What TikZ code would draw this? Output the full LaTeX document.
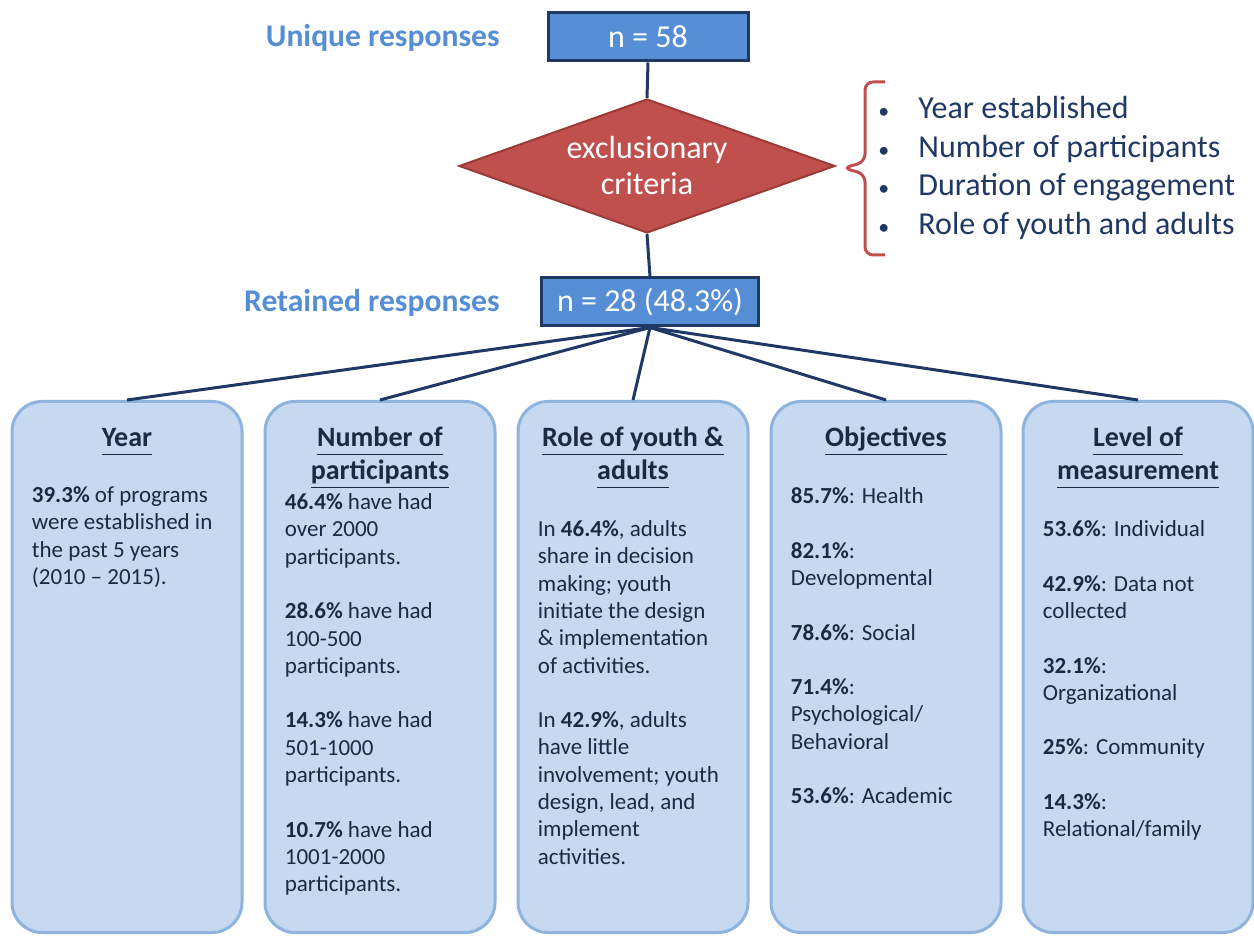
\documentclass[tikz,border=0pt]{standalone}
\usepackage{fontspec}
\setmainfont{Carlito}
\usetikzlibrary{shapes.geometric}

\definecolor{countfill}{HTML}{558ED5}
\definecolor{navyline}{HTML}{1F3864}
\definecolor{critred}{HTML}{C0504D}
\definecolor{critedge}{HTML}{9C3A37}
\definecolor{boxfill}{HTML}{C6D9F1}
\definecolor{boxedge}{HTML}{8EB3DE}
\definecolor{listtext}{HTML}{203864}
\definecolor{bodytext}{HTML}{1C2A3F}

\newcommand{\titleul}[1]{\underline{#1\vphantom{gp}}}
\newcommand{\paragap}{\\[13.65pt]}

\tikzset{
  countbox/.style={rectangle, draw=navyline, line width=1.5pt, fill=countfill, text=white,
    font=\fontsize{16}{19}\selectfont, minimum width=100pt, minimum height=24pt, inner sep=0pt},
  sidelabel/.style={anchor=east, inner sep=0pt, text=countfill, font=\fontsize{15.8}{19}\selectfont\bfseries},
  criteria/.style={diamond, draw=critedge, line width=1pt, fill=critred, text=white, align=center,
    font=\fontsize{16}{18}\selectfont, aspect=2.8, inner sep=0pt, minimum width=188pt, minimum height=67pt},
  catbox/.style={rectangle, rounded corners=15pt, draw=boxedge, line width=1.5pt, fill=boxfill,
    minimum width=115pt, minimum height=265.5pt},
  cattitle/.style={anchor=north, align=center, inner sep=0pt, text=bodytext,
    font=\fontsize{14}{16.5}\selectfont\bfseries},
  catbody/.style={anchor=north west, align=left, inner sep=0pt, text=bodytext,
    font=\fontsize{11.5}{13.65}\selectfont},
  link/.style={draw=navyline, line width=1.5pt}
}

\begin{document}
\begin{tikzpicture}[x=0.5pt, y=-0.5pt]
  \useasboundingbox (0,0) rectangle (1254,940);

  % Counts and criteria
  \node[countbox] (n58) at (648,37) {n = 58};
  \node[sidelabel] (uniq) at (500,38) {Unique responses};
  \node[criteria] (crit) at (647,166) {exclusionary\\criteria};
  \node[countbox, minimum width=108.5pt] (ret) at (650,302) {n = 28 (48.3\%)};
  \node[sidelabel] (retl) at (500,303) {Retained responses};
  \draw[link] (n58.south) -- (crit.north);
  \draw[link] (crit.south) -- (ret.north);

  % Criteria list
  \draw[critred, line width=1.5pt, rounded corners=4pt]
    (885,82) -- (865,82) -- (865,162) -- (843,168) -- (865,174) -- (865,255) -- (885,255);
  \node[anchor=west, align=left, inner sep=0pt, text=listtext, font=\fontsize{16}{19.3}\selectfont]
    (crlist) at (878,168)
    {\makebox[20pt][l]{\fontsize{11}{11}\selectfont•}Year established\\
     \makebox[20pt][l]{\fontsize{11}{11}\selectfont•}Number of participants\\
     \makebox[20pt][l]{\fontsize{11}{11}\selectfont•}Duration of engagement\\
     \makebox[20pt][l]{\fontsize{11}{11}\selectfont•}Role of youth and adults};

  % Category boxes
  \node[catbox] (yearbox) at (127,667) {};
  \node[catbox] (numbox) at (380,667) {};
  \node[catbox] (rolebox) at (633,667) {};
  \node[catbox] (objbox) at (886,667) {};
  \node[catbox] (levelbox) at (1138,667) {};

  \foreach \b in {yearbox,numbox,rolebox,objbox,levelbox}
    \draw[link] (ret.south) -- (\b.north);

  % Titles
  \node[cattitle] (yeart) at ([yshift=-11.5pt]yearbox.north) {\strut\titleul{Year}};
  \node[cattitle] (numt) at ([yshift=-11.5pt]numbox.north) {\strut\titleul{Number of}\\\titleul{participants}};
  \node[cattitle] (rolet) at ([yshift=-11.5pt]rolebox.north) {\strut\titleul{Role of youth \&}\\\titleul{adults}};
  \node[cattitle] (objt) at ([yshift=-11.5pt]objbox.north) {\strut\titleul{Objectives}};
  \node[cattitle] (levelt) at ([yshift=-11.5pt]levelbox.north) {\strut\titleul{Level of}\\\titleul{measurement}};

  % Texts
  \node[catbody] (yeartx) at ([xshift=10.5pt, yshift=-41.5pt]yearbox.north west)
    {\strut\textbf{39.3\%} of programs\\were established in\\the past 5 years\\(2010 – 2015).};
  \node[catbody] (numtx) at ([xshift=10.5pt, yshift=-45pt]numbox.north west)
    {\strut\textbf{46.4\%} have had\\over 2000\\participants.\paragap
     \textbf{28.6\%} have had\\100-500\\participants.\paragap
     \textbf{14.3\%} have had\\501-1000\\participants.\paragap
     \textbf{10.7\%} have had\\1001-2000\\participants.};
  \node[catbody] (roletx) at ([xshift=10.5pt, yshift=-58.5pt]rolebox.north west)
    {\strut In \textbf{46.4\%}, adults\\share in decision\\making; youth\\initiate the design\\\& implementation\\of activities.\paragap
     In \textbf{42.9\%}, adults\\have little\\involvement; youth\\design, lead, and\\implement\\activities.};
  \node[catbody] (objtx) at ([xshift=10.5pt, yshift=-42pt]objbox.north west)
    {\strut\textbf{85.7\%}: Health\paragap
     \textbf{82.1\%}:\\Developmental\paragap
     \textbf{78.6\%}: Social\paragap
     \textbf{71.4\%}:\\Psychological/\\Behavioral\paragap
     \textbf{53.6\%}: Academic};
  \node[catbody] (leveltx) at ([xshift=10.5pt, yshift=-58.5pt]levelbox.north west)
    {\strut\textbf{53.6\%}: Individual\paragap
     \textbf{42.9\%}: Data not\\collected\paragap
     \textbf{32.1\%}:\\Organizational\paragap
     \textbf{25\%}: Community\paragap
     \textbf{14.3\%}:\\Relational/family};
\end{tikzpicture}
\end{document}
